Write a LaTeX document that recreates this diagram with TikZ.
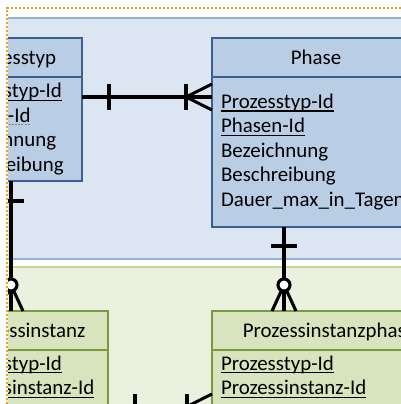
\documentclass[tikz,border=0pt]{standalone}
\usepackage{fontspec}
\setmainfont{Carlito}
\usepackage{xcolor}
\usetikzlibrary{positioning,calc}

\definecolor{bluebg}{HTML}{DCE6F2}
\definecolor{blueedge}{HTML}{95B3D7}
\definecolor{boxblue}{HTML}{B9CDE5}
\definecolor{boxblueedge}{HTML}{3B5F8F}
\definecolor{greenbg}{HTML}{EBF1DE}
\definecolor{greenedge}{HTML}{C3D69B}
\definecolor{boxgreen}{HTML}{D7E4BD}
\definecolor{boxgreenedge}{HTML}{7A9A3E}
\definecolor{selorange}{HTML}{F59B1E}

% key attribute (solid) and foreign key (dashed) underlines
\newcommand{\pk}[1]{\leavevmode\setbox0\hbox{#1}\rlap{\rule[-3.3pt]{\wd0}{1.3pt}}\box0}
\newcommand{\fk}[1]{\leavevmode\setbox0\hbox{#1}\rlap{\raisebox{-3.2pt}{\hbox to \wd0{\color{gray}\xleaders\hbox{\rule{2pt}{1pt}\hspace{1pt}}\hfill}}}\box0}

\begin{document}
\begin{tikzpicture}[
    x=1pt, y=-1pt,
    txt/.style={font=\fontsize{20.9pt}{24.5pt}\selectfont},
    head/.style={rectangle, draw=boxblueedge, fill=boxblue, line width=1.8pt, inner sep=0pt, outer sep=0pt, minimum height=39pt, text height=15pt, text depth=0pt, txt},
    body/.style={rectangle, draw=boxblueedge, fill=boxblue, line width=1.8pt, inner sep=0pt, inner xsep=9pt, outer sep=0pt, align=left, txt},
    ghead/.style={head, draw=boxgreenedge, fill=boxgreen, text height=14pt},
    gbody/.style={body, draw=boxgreenedge, fill=boxgreen, inner ysep=6pt, text height=14pt, text depth=60pt},
    rel/.style={line width=3.1pt, line join=round}
]
\useasboundingbox (0,0) rectangle (401,404);
\begin{scope}
\clip (8,9) rectangle (401,404);
% areas
\draw[draw=blueedge, fill=bluebg, line width=1.5pt] (-50,18) rectangle (450,259);
\draw[draw=greenedge, fill=greenbg, line width=1.5pt] (-50,267) rectangle (450,450);

% entities
\node[head, minimum width=142pt] (typhead) at (11,57.5) {Prozesstyp};
\node[body, text width=124pt, minimum height=104pt, below=0pt of typhead] (typbody)
  {\pk{Prozesstyp-Id}\\\fk{Subtyp-Id}\\Bezeichnung\\Beschreibung};
\node[head, minimum width=208pt, right=130pt of typhead] (phhead) {Phase};
\node[body, text width=190pt, minimum height=150pt, below=0pt of phhead] (phbody)
  {\pk{Prozesstyp-Id}\\\pk{Phasen-Id}\\Bezeichnung\\Beschreibung\\Dauer\_max\_in\_Tagen};
\node[ghead, minimum width=168pt] (insthead) at (24,330.5) {Prozessinstanz};
\node[gbody, text width=150pt, below=0pt of insthead] (instbody)
  {\pk{Prozesstyp-Id}\\\pk{Prozessinstanz-Id}};
\node[ghead, minimum width=235pt, right=104pt of insthead] (iphhead) {Prozessinstanzphase};
\node[gbody, text width=217pt, below=0pt of iphhead] (iphbody)
  {\pk{Prozesstyp-Id}\\\pk{Prozessinstanz-Id}};

% Prozesstyp -- Phase
\coordinate (typr) at ([yshift=-20pt]typbody.north east);
\coordinate (phl) at (phbody.west |- typr);
\draw[rel] (typr) -- (phl);
\draw[rel] ([xshift=27pt]typr) ++(0,-13) -- ++(0,26);
\draw[rel] ([xshift=-26pt]phl) ++(0,-13) -- ++(0,26);
\draw[rel] ([yshift=13pt]phl) -- ([xshift=-26pt]phl) -- ([yshift=-13pt]phl);

% Prozesstyp -- Prozessinstanz
\coordinate (typb) at (typbody.south);
\coordinate (instt) at (typb |- insthead.north);
\draw[rel] (typb) -- (instt);
\draw[rel] ([yshift=-20pt]typb) ++(-13,0) -- ++(26,0);
\draw[rel] ([xshift=-12pt]instt) -- ([yshift=26pt]instt) -- ([xshift=12pt]instt);
\draw[rel, fill=white] ([yshift=26pt]instt) circle (6pt);

% Phase -- Prozessinstanzphase
\coordinate (phb) at ([xshift=-32pt]phbody.south);
\coordinate (ipht) at (phb |- iphhead.north);
\draw[rel] (phb) -- (ipht);
\draw[rel] ([yshift=-19pt]phb) ++(-13,0) -- ++(26,0);
\draw[rel] ([xshift=-12pt]ipht) -- ([yshift=26pt]ipht) -- ([xshift=12pt]ipht);
\draw[rel, fill=white] ([yshift=26pt]ipht) circle (6pt);

% Prozessinstanz -- Prozessinstanzphase
\coordinate (instr) at ([yshift=-57pt]instbody.north east);
\coordinate (iphl) at (iphbody.west |- instr);
\draw[rel] (instr) -- (iphl);
\draw[rel] ([xshift=27pt]instr) ++(0,-13) -- ++(0,26);
\draw[rel] ([xshift=-25pt]iphl) ++(0,-13) -- ++(0,26);
\draw[rel] ([yshift=13pt]iphl) -- ([xshift=-26pt]iphl) -- ([yshift=-13pt]iphl);
\end{scope}

% selection frame
\draw[selorange, line width=2.2pt, dash pattern=on 2pt off 2pt] (7.3,404) -- (7.3,7.8) -- (401,7.8);
\end{tikzpicture}
\end{document}
